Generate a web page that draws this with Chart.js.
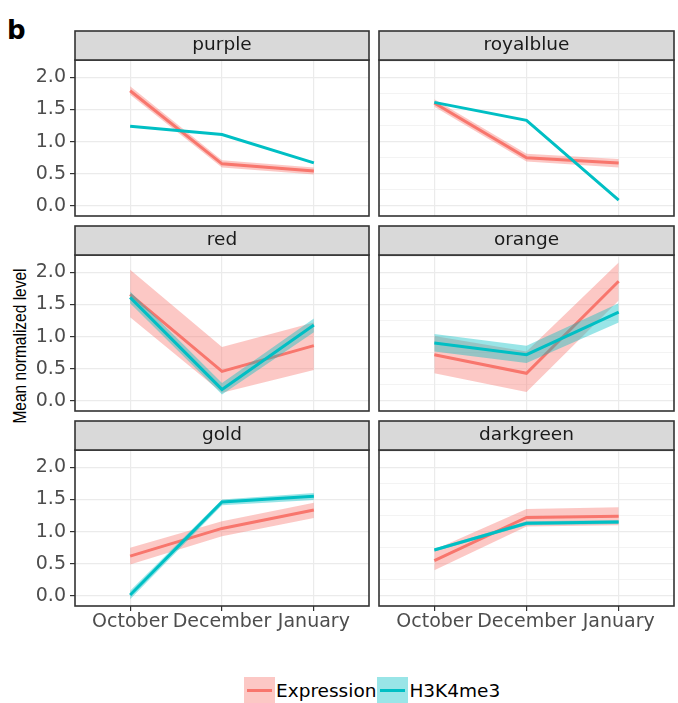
<!DOCTYPE html>
<html>
<head>
<meta charset="utf-8">
<script src="https://cdn.jsdelivr.net/npm/chart.js@4.4.1/dist/chart.umd.min.js"></script>
<style>
html, body { margin: 0; padding: 0; background: #ffffff; }
body { width: 678px; height: 703px; position: relative; overflow: hidden; font-family: "DejaVu Sans", sans-serif; }
canvas.pc { position: absolute; }
#tag { position: absolute; left: 7px; top: 17px; font: bold 26px/26px "DejaVu Sans"; color: #000; }
#ytitle { position: absolute; left: -80px; top: 338px; width: 200px; height: 16px; text-align: center;
  font: 15.5px/16px "Liberation Sans"; color: #000; white-space: nowrap;
  transform: scaleX(1.2) rotate(-90deg); transform-origin: 50% 50%; }
#legend { position: absolute; left: 244px; top: 677px; height: 27px; display: flex; align-items: center; }
.key { width: 31px; height: 27px; position: relative; }
.key span { position: absolute; left: 3px; right: 3px; top: 12px; height: 3px; }
.lt { font: 18.5px/27px "DejaVu Sans"; color: #000; margin-left: 1px; margin-right: 1px; }
</style>
</head>
<body>
<div id="tag">b</div>
<div id="ytitle">Mean normalized level</div>
<div id="legend">
  <div class="key" style="background:rgba(248,118,109,0.4)"><span style="background:#F8766D"></span></div>
  <div class="lt">Expression</div>
  <div class="key" style="background:rgba(0,191,196,0.4)"><span style="background:#00BFC4"></span></div>
  <div class="lt">H3K4me3</div>
</div>
<script>
// ---- categories / ticks ----
const months = ['October', 'December', 'January'];
const panelNames = ['purple', 'royalblue', 'red', 'orange', 'gold', 'darkgreen'];
const yMajorTicks = [0, 0.5, 1.0, 1.5, 2.0];
const yMinorTicks = [0.25, 0.75, 1.25, 1.75, 2.25];

// ---- purple ----
const purpleExpr   = [1.79, 0.655, 0.545];
const purpleExprLo = [1.73, 0.60, 0.49];
const purpleExprHi = [1.86, 0.71, 0.60];
const purpleH3     = [1.24, 1.11, 0.67];
const purpleH3Lo   = [1.235, 1.105, 0.665];
const purpleH3Hi   = [1.245, 1.115, 0.675];
// ---- royalblue ----
const royalblueExpr   = [1.60, 0.75, 0.67];
const royalblueExprLo = [1.54, 0.69, 0.60];
const royalblueExprHi = [1.66, 0.81, 0.73];
const royalblueH3     = [1.61, 1.33, 0.09];
const royalblueH3Lo   = [1.605, 1.325, 0.085];
const royalblueH3Hi   = [1.615, 1.335, 0.095];
// ---- red ----
const redExpr   = [1.655, 0.46, 0.86];
const redExprLo = [1.30, 0.13, 0.48];
const redExprHi = [2.04, 0.84, 1.22];
const redH3     = [1.61, 0.18, 1.18];
const redH3Lo   = [1.52, 0.10, 1.07];
const redH3Hi   = [1.70, 0.28, 1.28];
// ---- orange ----
const orangeExpr   = [0.72, 0.43, 1.86];
const orangeExprLo = [0.43, 0.14, 1.56];
const orangeExprHi = [1.01, 0.77, 2.15];
const orangeH3     = [0.90, 0.72, 1.38];
const orangeH3Lo   = [0.77, 0.59, 1.22];
const orangeH3Hi   = [1.04, 0.86, 1.52];
// ---- gold ----
const goldExpr   = [0.62, 1.05, 1.335];
const goldExprLo = [0.49, 0.93, 1.21];
const goldExprHi = [0.75, 1.16, 1.45];
const goldH3     = [0.015, 1.46, 1.55];
const goldH3Lo   = [-0.05, 1.41, 1.49];
const goldH3Hi   = [0.08, 1.50, 1.60];
// ---- darkgreen ----
const darkgreenExpr   = [0.55, 1.22, 1.24];
const darkgreenExprLo = [0.40, 1.08, 1.10];
const darkgreenExprHi = [0.72, 1.35, 1.38];
const darkgreenH3     = [0.715, 1.13, 1.15];
const darkgreenH3Lo   = [0.69, 1.10, 1.12];
const darkgreenH3Hi   = [0.74, 1.16, 1.18];

const panelSeries = {
  purple:    [purpleExprLo, purpleExprHi, purpleExpr, purpleH3Lo, purpleH3Hi, purpleH3],
  royalblue: [royalblueExprLo, royalblueExprHi, royalblueExpr, royalblueH3Lo, royalblueH3Hi, royalblueH3],
  red:       [redExprLo, redExprHi, redExpr, redH3Lo, redH3Hi, redH3],
  orange:    [orangeExprLo, orangeExprHi, orangeExpr, orangeH3Lo, orangeH3Hi, orangeH3],
  gold:      [goldExprLo, goldExprHi, goldExpr, goldH3Lo, goldH3Hi, goldH3],
  darkgreen: [darkgreenExprLo, darkgreenExprHi, darkgreenExpr, darkgreenH3Lo, darkgreenH3Hi, darkgreenH3]
};

const RED = '#F8766D', CYAN = '#00BFC4';
const RED_RIB = 'rgba(248,118,109,0.4)', CYAN_RIB = 'rgba(0,191,196,0.4)';
const CLEAR = 'rgba(0,0,0,0)';

const panelDeco = {
  id: 'panelDeco',
  afterDraw(chart, args, opts) {
    const ctx = chart.ctx, a = chart.chartArea;
    const w = a.right - a.left, h = a.bottom - a.top, sh = 29;
    ctx.save();
    ctx.strokeStyle = '#333333';
    ctx.lineWidth = 1.6;
    ctx.strokeRect(a.left, a.top, w, h);
    ctx.fillStyle = '#d9d9d9';
    ctx.fillRect(a.left, a.top - sh, w, sh);
    ctx.strokeRect(a.left, a.top - sh, w, sh);
    ctx.fillStyle = '#1a1a1a';
    ctx.font = '18.5px "DejaVu Sans"';
    ctx.textAlign = 'center';
    ctx.textBaseline = 'middle';
    ctx.fillText(opts.label, (a.left + a.right) / 2, a.top - sh / 2);
    ctx.restore();
  }
};

const colLeft = [0, 376], colWidth = [373, 302];
const padLeft = [0, 3], padRight = [4, 4];
const rowTop = [26, 221, 416], rowHeight = [193, 193, 224];

function pts(arr) { return arr.map((v, i) => ({ x: i, y: v })); }

panelNames.forEach((name, idx) => {
  const col = idx % 2, row = Math.floor(idx / 2);
  const leftCol = col === 0, bottomRow = row === 2;
  const cv = document.createElement('canvas');
  cv.className = 'pc';
  cv.width = colWidth[col]; cv.height = rowHeight[row];
  cv.style.left = colLeft[col] + 'px'; cv.style.top = rowTop[row] + 'px';
  cv.style.width = colWidth[col] + 'px'; cv.style.height = rowHeight[row] + 'px';
  document.body.appendChild(cv);
  const s = panelSeries[name];
  const base = { pointRadius: 0, pointHoverRadius: 0, tension: 0 };
  const datasets = [
    Object.assign({ label: 'ExprLo', data: pts(s[0]), borderColor: CLEAR, borderWidth: 0, backgroundColor: CLEAR, fill: false, order: 5 }, base),
    Object.assign({ label: 'ExprHi', data: pts(s[1]), borderColor: CLEAR, borderWidth: 0, backgroundColor: RED_RIB, fill: '-1', order: 4 }, base),
    Object.assign({ label: 'Expression', data: pts(s[2]), borderColor: RED, borderWidth: 3, backgroundColor: RED, fill: false, order: 3 }, base),
    Object.assign({ label: 'H3Lo', data: pts(s[3]), borderColor: CLEAR, borderWidth: 0, backgroundColor: CLEAR, fill: false, order: 2 }, base),
    Object.assign({ label: 'H3Hi', data: pts(s[4]), borderColor: CLEAR, borderWidth: 0, backgroundColor: CYAN_RIB, fill: '-1', order: 1 }, base),
    Object.assign({ label: 'H3K4me3', data: pts(s[5]), borderColor: CYAN, borderWidth: 3, backgroundColor: CYAN, fill: false, order: 0 }, base)
  ];
  new Chart(cv, {
    type: 'line',
    data: { datasets },
    options: {
      responsive: false,
      animation: false,
      devicePixelRatio: 1,
      events: [],
      layout: { padding: { top: 34, left: padLeft[col], right: padRight[col], bottom: bottomRow ? 4 : 3 } },
      plugins: {
        legend: { display: false },
        tooltip: { enabled: false },
        title: { display: false },
        filler: { drawTime: 'beforeDatasetDraw', propagate: false },
        panelDeco: { label: name }
      },
      scales: {
        x: {
          type: 'linear', min: -0.6, max: 2.6,
          afterBuildTicks: sc => { sc.ticks = months.map((m, i) => ({ value: i })); },
          afterFit: sc => { sc.height = bottomRow ? 30 : 0; sc.paddingLeft = 0; sc.paddingRight = 0; },
          ticks: {
            display: bottomRow, autoSkip: false, maxRotation: 0,
            callback: v => months[v],
            font: { family: 'DejaVu Sans', size: 19 }, color: '#4d4d4d', padding: 0
          },
          grid: { color: '#ebebeb', lineWidth: 1.2, drawTicks: bottomRow, tickLength: 5, tickColor: '#333333', tickWidth: 1.2 },
          border: { display: false }
        },
        y: {
          type: 'linear', min: -0.155, max: 2.268,
          afterBuildTicks: sc => {
            sc.ticks = yMajorTicks.concat(yMinorTicks).sort((a, b) => a - b).map(v => ({ value: v }));
          },
          afterFit: sc => { sc.width = leftCol ? 75 : 0; sc.paddingTop = 0; sc.paddingBottom = 0; },
          ticks: {
            display: leftCol,
            callback: v => yMajorTicks.includes(v) ? v.toFixed(1) : '',
            font: { family: 'DejaVu Sans', size: 19 }, color: '#4d4d4d', padding: 4
          },
          grid: {
            color: '#ebebeb',
            lineWidth: c => yMajorTicks.includes(c.tick && c.tick.value) ? 1.2 : 0.6,
            drawTicks: leftCol, tickLength: 5, tickWidth: 1.2,
            tickColor: c => yMajorTicks.includes(c.tick && c.tick.value) ? '#333333' : CLEAR
          },
          border: { display: false }
        }
      }
    },
    plugins: [panelDeco]
  });
});
</script>
</body>
</html>
